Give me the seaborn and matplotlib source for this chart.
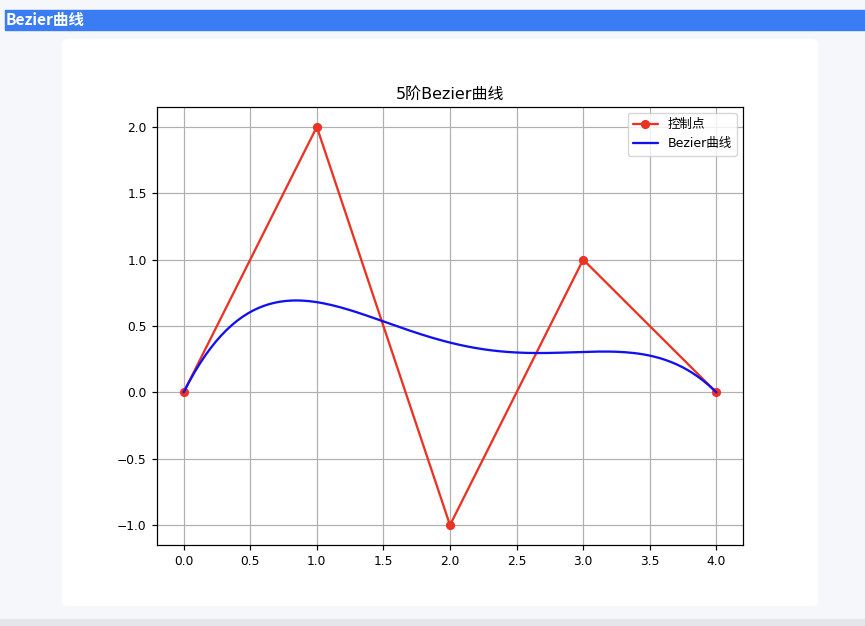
import matplotlib
matplotlib.use("Agg")
import matplotlib.pyplot as plt
from matplotlib.patches import FancyBboxPatch, Rectangle
from math import comb
import numpy as np
import pandas as pd
import seaborn as sns

# control points
ctrl_x = [0, 1, 2, 3, 4]
ctrl_y = [0, 2, -1, 1, 0]
title = "5阶Bezier曲线"
ctrl_label = "控制点"
curve_label = "Bezier曲线"
page_title = "Bezier曲线"

# Bezier curve evaluated from the control points
t = np.linspace(0, 1, 200)
n = len(ctrl_x) - 1
basis = np.array([comb(n, k) * t**k * (1 - t)**(n - k) for k in range(n + 1)])
curve = pd.DataFrame({"x": basis.T @ np.array(ctrl_x, float),
                      "y": basis.T @ np.array(ctrl_y, float)})
ctrl = pd.DataFrame({"x": ctrl_x, "y": ctrl_y})

sns.set_theme(style="ticks", rc={"text.color": "black", "axes.labelcolor": "black",
                                 "xtick.color": "black", "ytick.color": "black"})
plt.rcParams["font.family"] = ["DejaVu Sans", "Noto Sans CJK SC"]
plt.rcParams["axes.unicode_minus"] = True

W, H = 865, 626
fig = plt.figure(figsize=(W / 100, H / 100), dpi=100)
fig.patch.set_facecolor("#f5f7fa")

def px(x, y, w, h):
    # pixel box (top-left origin) -> inches box
    return x / 100, (H - y - h) / 100, w / 100, h / 100

tr = fig.dpi_scale_trans
x0, y0, w0, h0 = px(0, 619, 865, 7)
fig.patches.append(Rectangle((x0, y0), w0, h0, transform=tr, color="#e4e6ea", zorder=-2))
x0, y0, w0, h0 = px(5, 10, 860, 20)
fig.patches.append(Rectangle((x0, y0), w0, h0, transform=tr, color="#3a7cf4", zorder=-2))
fig.text(6 / W, 1 - 20 / H, page_title, color="white", fontsize=11.2, fontweight="bold",
         va="center", ha="left", family=["Noto Sans CJK SC", "DejaVu Sans"])
x0, y0, w0, h0 = px(62, 39, 756, 567)
fig.patches.append(FancyBboxPatch((x0 + 0.05, y0 + 0.05), w0 - 0.1, h0 - 0.1,
                                  boxstyle="round,pad=0.05", transform=tr,
                                  facecolor="white", edgecolor="none", zorder=-2))

ax = fig.add_axes([157 / W, (H - 545) / H, 586 / W, 438 / H])
ax.set_zorder(2)
sc = 1.1
sns.lineplot(data=ctrl, x="x", y="y", sort=False, marker="o", markersize=6 * sc,
             markeredgewidth=0, color="#ea3323", linewidth=1.5 * sc, label=ctrl_label, ax=ax)
sns.lineplot(data=curve, x="x", y="y", sort=False, color="#1010f0",
             linewidth=1.5 * sc, label=curve_label, ax=ax)

ax.set_title(title, fontsize=11.5, color="black")
ax.set_xlabel("")
ax.set_ylabel("")
ax.set_xticks(np.arange(0, 4.01, 0.5))
ax.set_yticks(np.arange(-1, 2.01, 0.5))
ax.tick_params(labelsize=8.8, length=3.5 * sc, width=0.8 * sc, color="black")
ax.grid(True, color="#b0b0b0", linewidth=0.8 * sc)
for s in ax.spines.values():
    s.set_visible(True)
    s.set_color("black")
    s.set_linewidth(0.8 * sc)
ax.legend(loc="upper right", fontsize=9, frameon=True, framealpha=0.8,
          edgecolor="#cccccc", fancybox=True)

fig.savefig("out.png", dpi=100)
